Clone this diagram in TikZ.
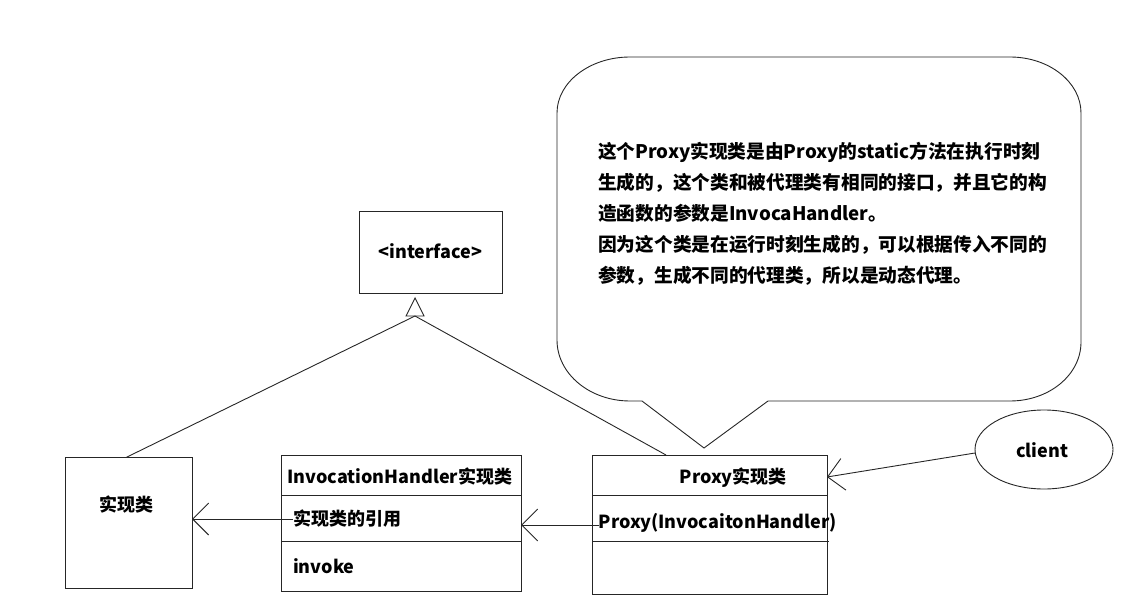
\documentclass[tikz,border=0pt]{standalone}
\usepackage{fontspec}
\setmainfont{Noto Sans CJK SC}
\usetikzlibrary{arrows.meta}
\tikzset{
  ln/.style={draw=black!85, line width=0.9pt},
  boxline/.style={draw=black!85, line width=0.9pt},
  txt/.style={font=\bfseries\fontsize{18}{22}\selectfont, inner sep=0pt, text=black},
  barb/.style={-{Straight Barb[length=16pt,width=32pt,line width=0.9pt]}},
}
\begin{document}
\begin{tikzpicture}[x=1pt,y=-1pt]
\useasboundingbox (0,0) rectangle (1135,612);
% interface
\draw[boxline] (359,211) rectangle (502,293);
\node[txt] (iface) at (430.5,251) {<interface>};
% triangle
\draw[ln] (415,298) -- (424,316) -- (406,316) -- cycle;
\coordinate (tribase) at (415,316);
% impl box
\draw[boxline] (65.5,457.5) rectangle (192,588.5);
\coordinate (implR) at (192,519);
\coordinate (implT) at (126,457.5);
\node[txt] (impltxt) at (126,505) {实现类};
% handler box
\draw[boxline] (281,455) rectangle (521,591);
\draw[ln] (281,495) -- (522,495);
\draw[ln] (281,541) -- (522,541);
\coordinate (handlerR) at (521,525);
\node[txt, anchor=west] (htitle) at (287,477) {InvocationHandler实现类};
\node[txt, anchor=west] (href) at (293,519) {实现类的引用};
\node[txt, anchor=west] (hinv) at (293,566) {invoke};
% proxy box
\draw[boxline] (592,455) rectangle (827,594);
\draw[ln] (592,495) -- (827,495);
\draw[ln] (592,541) -- (829,541);
\coordinate (proxyR) at (827,477);
\coordinate (proxyT) at (666,455);
\node[txt] (ptitle) at (733,478) {Proxy实现类};
\node[txt, anchor=west] (pctor) at (598.5,523) {Proxy(InvocaitonHandler)};
% client
\draw[ln] (1044,449.5) ellipse [x radius=69, y radius=39.5];
\node[txt] (client) at (1042,450) {client};
\coordinate (clientL) at (975,453);
% inheritance lines
\draw[ln] (tribase) -- (implT);
\draw[ln] (tribase) -- (proxyT);
% arrows
\draw[ln, barb] (href.west) -- (implR);
\draw[ln, barb] (pctor.west |- handlerR) -- (handlerR);
\draw[ln, barb] (clientL) -- (proxyR);
% callout
\draw[ln] (642,401) -- (704,448) -- (768,401) -- (1010,401)
  .. controls (1049,401) and (1081,375) .. (1081,342)
  -- (1081,113)
  .. controls (1081,82) and (1049,57) .. (1010,57)
  -- (630,57)
  .. controls (590,57) and (557,82) .. (557,113)
  -- (557,340)
  .. controls (557,374) and (590,401) .. (630,401) -- cycle;
\node[txt, anchor=west, align=left, font=\bfseries\fontsize{18.7}{31}\selectfont] (note) at (598,214)
 {这个Proxy实现类是由Proxy的static方法在执行时刻\\
  生成的，这个类和被代理类有相同的接口，并且它的构\\
  造函数的参数是InvocaHandler。\\
  因为这个类是在运行时刻生成的，可以根据传入不同的\\
  参数，生成不同的代理类，所以是动态代理。};
\end{tikzpicture}
\end{document}
